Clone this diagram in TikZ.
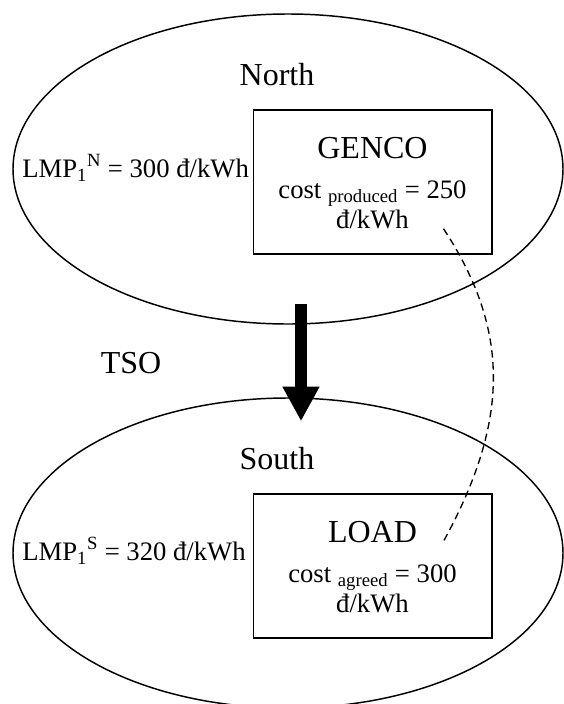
\documentclass[tikz,border=0pt]{standalone}
\usepackage{fontspec}
\setmainfont{Liberation Serif}
\usetikzlibrary{shapes.geometric,arrows.meta,calc}

\tikzset{
  zone/.style={draw, ellipse, line width=1.1pt, minimum width=412.5pt,
    minimum height=232.5pt, inner sep=0pt},
  party/.style={draw, line width=1pt, minimum width=179pt,
    minimum height=108pt, inner sep=0pt},
  bigtxt/.style={font=\fontsize{24}{28}\selectfont, inner sep=0pt, anchor=base},
  smalltxt/.style={font=\fontsize{20}{22.5}\selectfont, inner sep=0pt, anchor=base},
  linkline/.style={line width=1pt, dash pattern=on 5.5pt off 3.5pt},
}

\begin{document}
\begin{tikzpicture}[x=0.75pt, y=-0.75pt]
  \useasboundingbox (0,0) rectangle (564,704);

  % Zones
  \node[zone] (north) at (288,169) {};
  \node[zone] (south) at (288,553) {};
  \node[bigtxt] (northlbl) at (277,85) {North};
  \node[bigtxt] (southlbl) at (277,469) {South};

  % Prices at each zone
  \node[smalltxt, anchor=base west] (lmpn) at (22,177)
    {LMP\textsubscript{1}\textsuperscript{N} = 300 đ/kWh};
  \node[smalltxt, anchor=base west] (lmps) at (22,560)
    {LMP\textsubscript{1}\textsuperscript{S} = 320 đ/kWh};

  % Generator and load boxes
  \node[party] (genco) at (372.5,182) {};
  \node[party] (load) at (372.5,566) {};
  \node[bigtxt] (gencolbl) at (372.5,158) {GENCO};
  \node[smalltxt] (gencocost) at (372.5,198) {cost \textsubscript{produced} = 250};
  \node[smalltxt] (gencounit) at (372.5,228) {đ/kWh};
  \node[bigtxt] (loadlbl) at (372.5,542) {LOAD};
  \node[smalltxt] (loadcost) at (372.5,582) {cost \textsubscript{agreed} = 300};
  \node[smalltxt] (loadunit) at (372.5,612) {đ/kWh};

  % Power flow through the TSO
  \coordinate (flowfrom) at ($(north.south)+(13,-21)$);
  \coordinate (flowto) at ($(south.north)+(13,24)$);
  \draw[line width=9pt, -{Triangle[width=26pt, length=26pt]}] (flowfrom) -- (flowto);
  \node[bigtxt] (tso) at (131,373) {TSO};

  % Contract between GENCO and LOAD
  \coordinate (gencoend) at ($(genco.south east)+(-49,-26)$);
  \coordinate (loadend) at ($(load.north east)+(-49,48)$);
  \draw[linkline] (gencoend) .. controls (510,330) and (510,420) .. (loadend);
\end{tikzpicture}
\end{document}
